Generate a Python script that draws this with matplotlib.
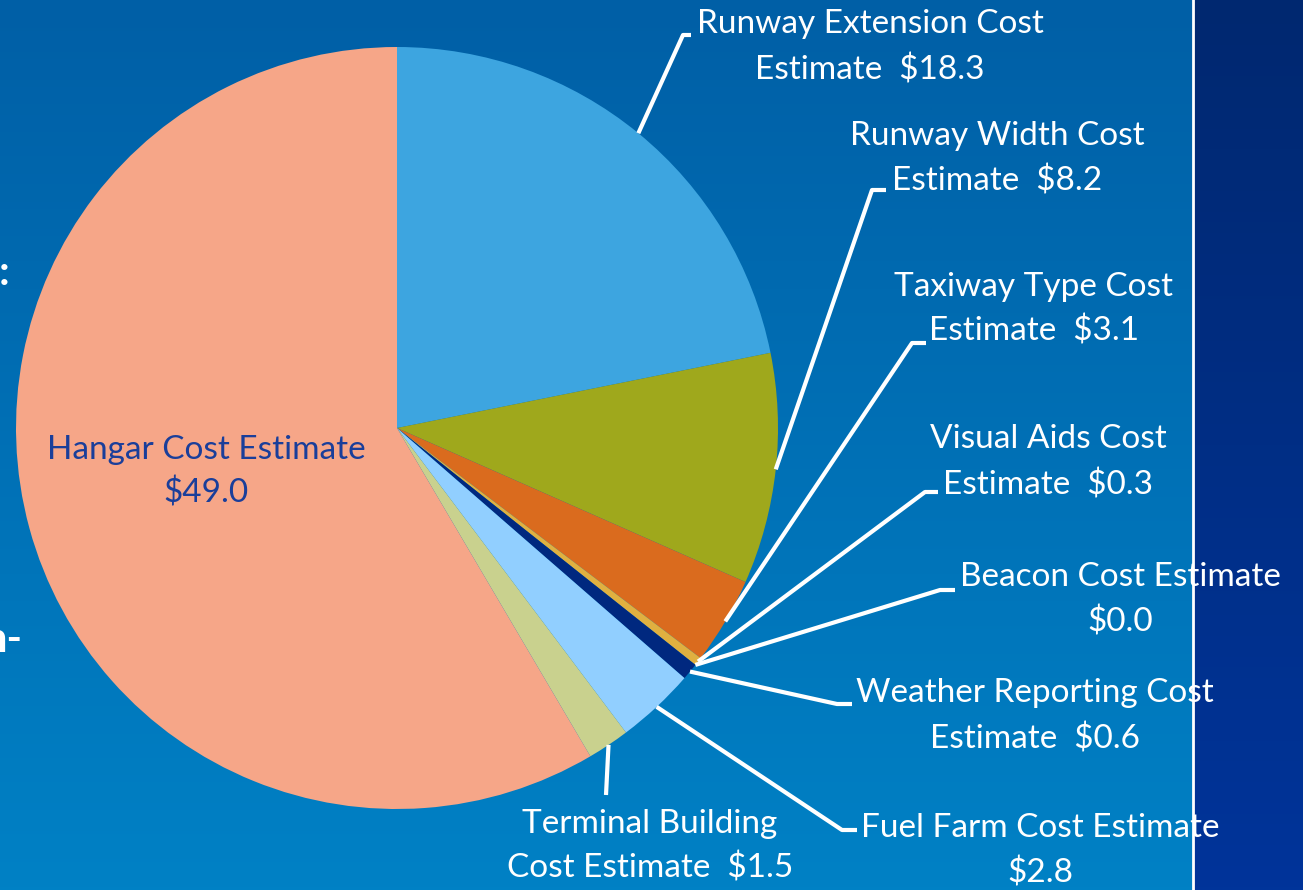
import numpy as np
import matplotlib.pyplot as plt

# slice data, clockwise from 12 o'clock
names = ["Runway Extension", "Runway Width", "Taxiway Type", "Visual Aids", "Beacon",
         "Weather Reporting", "Fuel Farm", "Terminal Building", "Hangar"]
costs = [18.3, 8.2, 3.1, 0.3, 0.0, 0.6, 2.8, 1.5, 49.0]
colors = ["#3DA5E0", "#9FA81C", "#DA6B1E", "#E0B040", "#E0B040",
          "#00287F", "#91CFFF", "#C9D18E", "#F6A688"]

# label text lines (line 1, line 2)
label_lines = [
    ("Runway Extension Cost", "Estimate  $18.3"),
    ("Runway Width Cost", "Estimate  $8.2"),
    ("Taxiway Type Cost", "Estimate  $3.1"),
    ("Visual Aids Cost", "Estimate  $0.3"),
    ("Beacon Cost Estimate", "$0.0"),
    ("Weather Reporting Cost", "Estimate  $0.6"),
    ("Fuel Farm Cost Estimate", "$2.8"),
    ("Terminal Building", "Cost Estimate  $1.5"),
    ("Hangar Cost Estimate", "$49.0"),
]

W, H = 1303, 890
plt.rcParams['font.family'] = ['Lato', 'DejaVu Sans']

fig = plt.figure(figsize=(W / 100, H / 100), dpi=100)
ax = fig.add_axes([0, 0, 1, 1])
ax.set_xlim(0, W)
ax.set_ylim(0, H)
ax.axis('off')

def py(y):
    # pixel row -> data y
    return H - y

# backgrounds
grad = np.linspace(0, 1, 256)[:, None]
left_top = np.array([0, 95, 166]) / 255
left_bot = np.array([0, 129, 197]) / 255
img = left_top + (left_bot - left_top) * grad[..., None]
ax.imshow(img, extent=[0, 1193, 0, H], origin='upper', aspect='auto', zorder=0)
right_top = np.array([0, 40, 112]) / 255
right_bot = np.array([0, 52, 154]) / 255
img2 = right_top + (right_bot - right_top) * grad[..., None]
ax.imshow(img2, extent=[1193, W, 0, H], origin='upper', aspect='auto', zorder=0)
ax.plot([1193, 1193], [0, H], color='white', lw=2, zorder=1)

# fragments of the slide text on the left
ax.text(-1, py(273), ":", color='white', fontsize=30, fontweight='bold',
        ha='left', va='center', zorder=1)
ax.text(-16, py(640), "n-", color='white', fontsize=30, fontweight='bold',
        ha='left', va='center', zorder=1)

# pie
cx, cy, R = 397, py(428), 381
wedges, _ = ax.pie(costs, colors=colors, startangle=90, counterclock=False,
                   center=(cx, cy), radius=R, frame=True,
                   wedgeprops=dict(linewidth=0))
for w in wedges:
    w.set_zorder(2)
ax.set_xlim(0, W)
ax.set_ylim(0, H)
ax.set_aspect('equal')
ax.axis('off')

# leader line elbows and ends (pixel coords), label centres (x, y1, y2)
elbows = [(683, 35), (872, 190), (912, 343), (925, 492), (940, 590),
          (837, 704), (842, 830), (606, 795), None]
ends = [(691, 35), (886, 190), (926, 343), (938, 492), (955, 590),
        (852, 704), (857, 830), None, None]
label_pos = [(870, 24, 70), (997, 136, 181), (1034, 287, 331), (1048, 439, 485),
             (1120, 577, 622), (1035, 693, 739), (1040, 828, 873), (650, 824, 868),
             (206, 450, 493)]

for w, el, en, (lx, y1, y2), (l1, l2) in zip(wedges, elbows, ends, label_pos, label_lines):
    ang = np.deg2rad((w.theta1 + w.theta2) / 2)
    sx, sy = cx + R * np.cos(ang), cy + R * np.sin(ang)
    txt_color = 'white'
    if el is not None:
        xs = [sx, el[0]]
        ys = [sy, py(el[1])]
        if en is not None:
            xs.append(en[0])
            ys.append(py(en[1]))
        ax.plot(xs, ys, color='white', lw=3, solid_capstyle='butt', zorder=3)
    else:
        txt_color = '#1A3E9A'
    ax.text(lx, py(y1), l1, color=txt_color, fontsize=24, ha='center', va='center', zorder=4)
    ax.text(lx, py(y2), l2, color=txt_color, fontsize=24, ha='center', va='center', zorder=4)

fig.savefig("out.png", dpi=100)
